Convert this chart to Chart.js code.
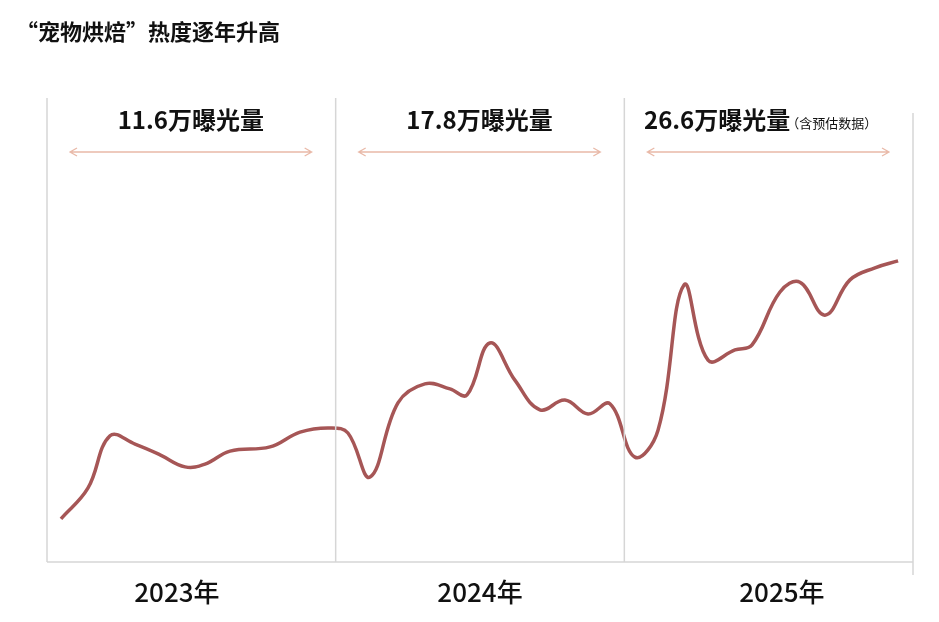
<!DOCTYPE html>
<html><head><meta charset="utf-8">
<script src="https://cdn.jsdelivr.net/npm/chart.js@4"></script>
<style>html,body{margin:0;padding:0;background:#fff}#w{width:939px;height:622px}</style>
</head><body><div id="w"><canvas id="c"></canvas></div>
<script>
const months=[0.58,1.70,2.62,3.66,4.70,5.74,6.57,7.61,9.27,10.52,11.76,12.51,13.43,14.59,15.71,16.75,17.46,18.41,19.45,20.49,21.53,22.49,23.40,24.44,25.40,26.48,27.48,28.60,29.31,30.47,31.30,32.34,33.38,34.42,35.38];
const heat=[9.3,15.9,27.2,25.4,23.1,20.5,21.1,23.9,24.8,28.0,28.9,27.8,18.3,34.3,38.4,37.3,36.0,47.2,39.2,32.8,34.9,31.9,34.1,22.6,28.4,59.7,43.5,45.7,46.8,58.2,60.3,53.2,60.8,63.4,64.9];
const yearLabels=['2023年','2024年','2025年'];
const yearPos=[5.4,18,30.55];
const exposure=['11.6万曝光量','17.8万曝光量','26.6万曝光量'];
const dividers=[0,12,24];
const F='"Noto Sans CJK SC","Noto Sans",sans-serif';
const deco={id:'deco',afterDraw(ch){
  const c=ch.ctx,x=ch.scales.x,y=ch.scales.y,a=ch.chartArea;
  c.save();
  c.fillStyle='#111';c.font='bold 22px '+F;c.textAlign='left';c.textBaseline='middle';
  c.fillText('“宠物烘焙”热度逐年升高',16,32);
  c.strokeStyle='#d6d6d6';c.lineWidth=1.5;
  dividers.forEach(d=>{const px=x.getPixelForValue(d);c.beginPath();c.moveTo(px,a.top);c.lineTo(px,a.bottom);c.stroke();});
  c.beginPath();c.moveTo(a.left,a.bottom);c.lineTo(a.right,a.bottom);c.stroke();
  c.beginPath();c.moveTo(a.right,113);c.lineTo(a.right,575);c.stroke();
  c.font='500 26px '+F;c.textAlign='center';
  yearLabels.forEach((t,i)=>c.fillText(t,x.getPixelForValue(yearPos[i]),592));
  dividers.forEach((d,i)=>{
    const l=x.getPixelForValue(d)+23,r=x.getPixelForValue(d+12)-24,m=(l+r)/2;
    c.strokeStyle='#e9b9a8';c.lineWidth=1.3;
    c.beginPath();c.moveTo(l,152);c.lineTo(r,152);
    c.moveTo(l+7,148);c.lineTo(l,152);c.lineTo(l+7,156);
    c.moveTo(r-7,148);c.lineTo(r,152);c.lineTo(r-7,156);c.stroke();
    c.fillStyle='#111';c.font='bold 24px '+F;
    if(i<2){c.textAlign='center';c.fillText(exposure[i],m,120);}
    else{c.textAlign='left';c.fillText(exposure[i],644,120);const w=c.measureText(exposure[i]).width;c.font='13px '+F;c.fillText('（含预估数据）',644+w-4,123);}
  });
  c.restore();
}};
new Chart(document.getElementById('c'),{type:'line',
 data:{datasets:[{data:months.map((m,i)=>({x:m,y:heat[i]})),borderColor:'#a65656',borderWidth:3.5,pointRadius:0,tension:0.4,fill:false}]},
 options:{responsive:true,maintainAspectRatio:false,animation:false,
  layout:{padding:{left:47,right:26,top:98,bottom:60}},
  plugins:{legend:{display:false},tooltip:{enabled:false}},
  scales:{x:{type:'linear',min:0,max:36,display:false},y:{min:0,max:100,display:false}}},
 plugins:[deco]});
</script></body></html>
